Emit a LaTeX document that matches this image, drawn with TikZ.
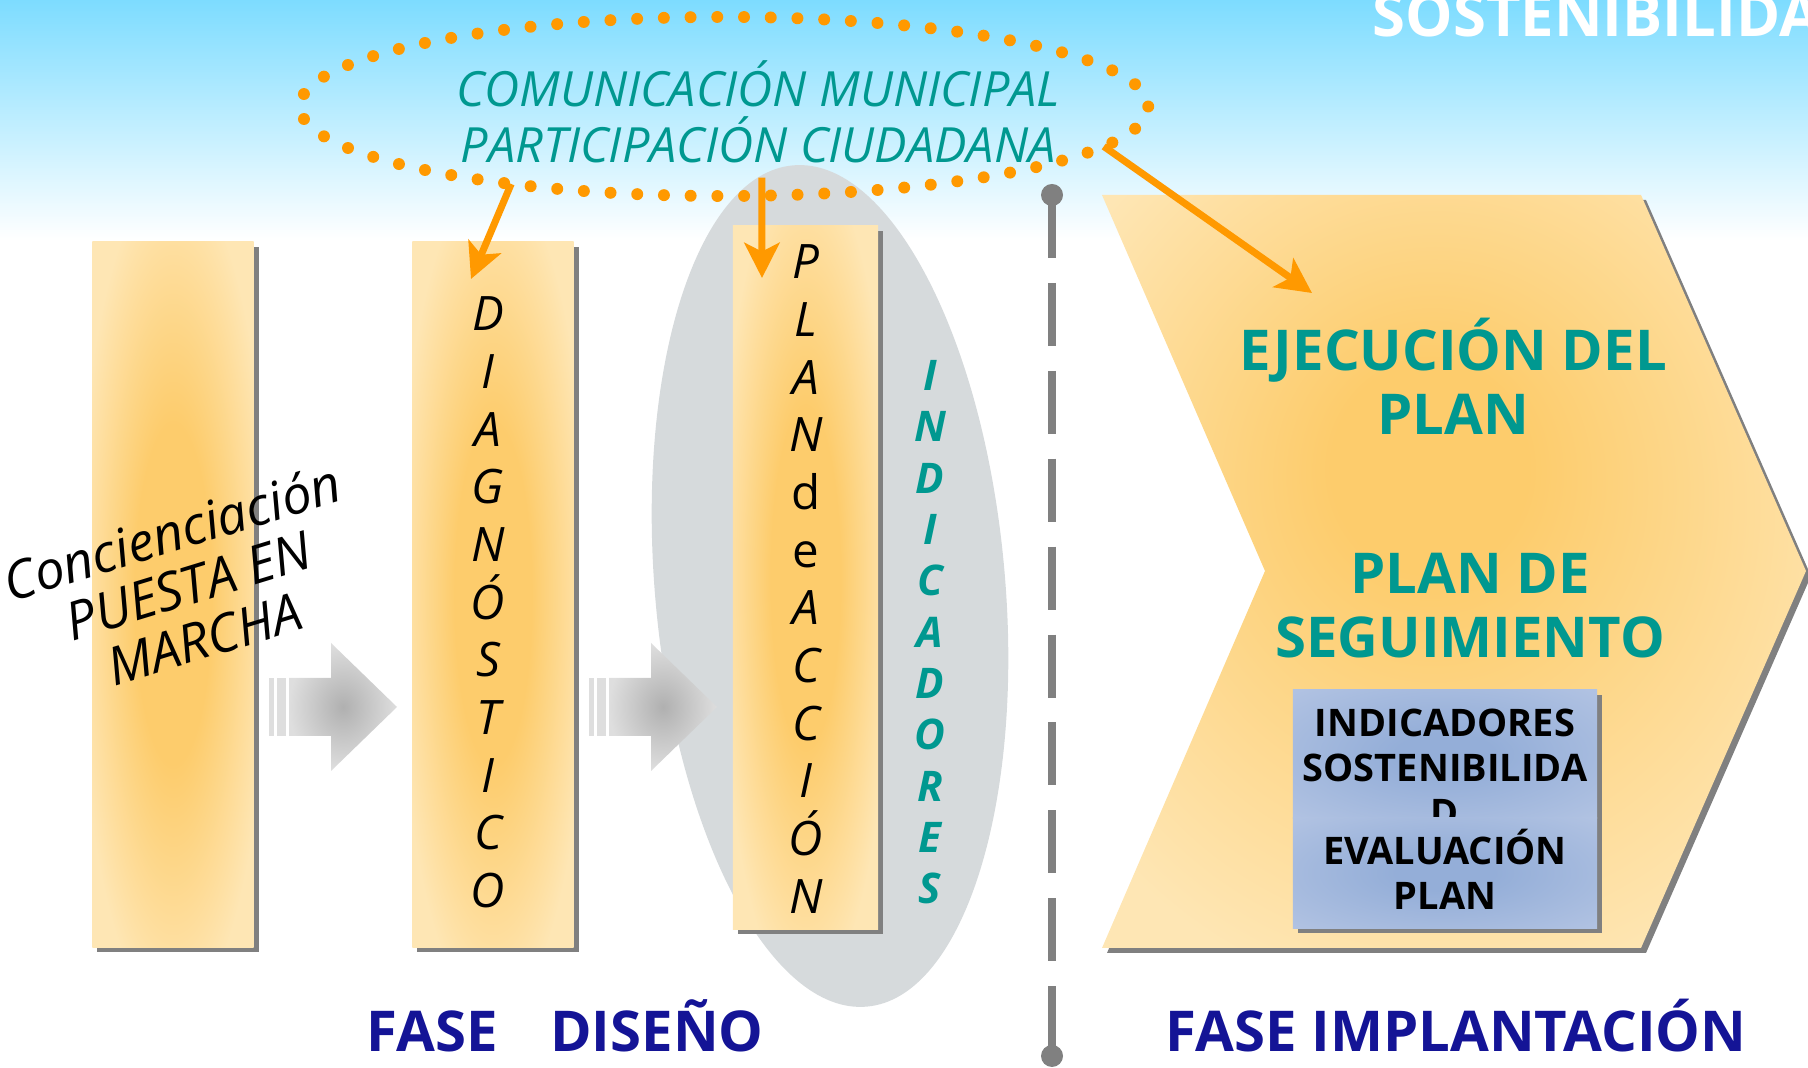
\documentclass[tikz,border=0pt]{standalone}
\usepackage{fontspec}
\setmainfont{Open Sans}
\usepackage{tikz}
\usetikzlibrary{shapes.geometric,arrows.meta,shadows}
\definecolor{skytop}{RGB}{125,220,255}
\definecolor{glowin}{RGB}{253,204,108}
\definecolor{glowout}{RGB}{254,230,180}
\definecolor{shadowgray}{RGB}{128,128,128}
\definecolor{ovalgray}{RGB}{214,218,220}
\definecolor{commteal}{RGB}{0,152,144}
\definecolor{phasenavy}{RGB}{20,20,150}
\definecolor{dotorange}{RGB}{255,153,0}
\definecolor{boxin}{RGB}{148,174,216}
\definecolor{boxout}{RGB}{182,198,228}
\definecolor{arrowin}{RGB}{176,176,176}
\definecolor{arrowout}{RGB}{222,222,222}
\pgfdeclareradialshading{barglow}{\pgfpoint{0bp}{0bp}}{color(0bp)=(glowin); color(12bp)=(glowin); color(30bp)=(glowout); color(50bp)=(glowout)}
\pgfdeclareradialshading{chevglow}{\pgfpoint{-2bp}{8bp}}{color(0bp)=(glowin); color(7bp)=(glowin); color(32bp)=(glowout); color(50bp)=(glowout)}
\pgfdeclareradialshading{boxglow}{\pgfpoint{0bp}{0bp}}{color(0bp)=(boxin); color(8bp)=(boxin); color(40bp)=(boxout); color(50bp)=(boxout)}
\tikzset{
    glow-bar/.style = {rectangle, shade, shading=barglow, inner sep=0pt, drop shadow={shadow xshift=0.05cm, shadow yshift=-0.05cm, fill=shadowgray, opacity=1}},
    blue-box/.style = {rectangle, shade, shading=boxglow, inner sep=0pt, drop shadow={shadow xshift=0.05cm, shadow yshift=-0.05cm, fill=shadowgray, opacity=1}},
    bar-letter/.style = {font=\fontsize{13.5}{15}\selectfont\itshape, inner sep=0pt, text height=0.72em, text depth=0pt},
    indic-letter/.style = {font=\fontsize{12}{14}\selectfont\bfseries\itshape, text=commteal, inner sep=0pt, text height=0.72em, text depth=0pt},
    indic-oval/.style = {ellipse, fill=ovalgray, inner sep=0pt, minimum width=3.5cm, minimum height=8.44cm},
    dot-ring/.style = {ellipse, draw=dotorange, line width=3.4pt, dash pattern=on 0pt off 7.6pt, line cap=round, inner sep=0pt, outer sep=0pt, minimum width=8.48cm, minimum height=1.79cm},
    comm-text/.style = {font=\fontsize{13.8}{16}\selectfont\itshape, text=commteal, align=center, inner sep=0pt},
    start-text/.style = {font=\fontsize{15}{15.8}\selectfont\itshape, align=center, inner sep=0pt},
    phase-title/.style = {font=\fontsize{16}{18.2}\selectfont\bfseries, text=commteal, align=center, inner sep=0pt},
    box-text/.style = {font=\fontsize{10.8}{12.8}\selectfont\bfseries, align=center, inner sep=0pt},
    phase-label/.style = {font=\fontsize{16}{19}\selectfont\bfseries, text=phasenavy, inner sep=0pt},
    banner-text/.style = {font=\fontsize{17}{20}\selectfont\bfseries, text=white, inner sep=0pt},
    flow-arrow/.style = {draw=dotorange, line width=2pt, -{Stealth[length=10pt, width=10pt, inset=2.5pt]}},
    step-arrow/.style = {inner color=arrowin, outer color=arrowout},
    stripe/.style = {fill=arrowout},
    divider/.style = {draw=shadowgray, line width=2.3pt, dash pattern=on 17.9pt off 7.1pt},
    end-dot/.style = {circle, fill=shadowgray, inner sep=0pt, minimum size=0.22cm},
}
\begin{document}
\begin{tikzpicture}[x=0.01cm, y=-0.01cm]
\useasboundingbox (0,0) rectangle (1808,1068);
\clip (0,0) rectangle (1808,1068);
\shade[top color=skytop, bottom color=white] (0,0) rectangle (1808,240);
\node[banner-text, anchor=base west] (banner) at (1372,37) {SOSTENIBILIDA};

\node[indic-oval, rotate=5] (oval) at (830,586) {};

\node[glow-bar, minimum width=1.61cm, minimum height=7.05cm] (bar1) at (173,594.5) {};
\node[glow-bar, minimum width=1.61cm, minimum height=7.05cm] (bar2) at (493,594.5) {};
\node[glow-bar, minimum width=1.45cm, minimum height=7.03cm] (bar3) at (805.5,577.5) {};

\foreach \ch [count=\i] in {D,I,A,G,N,Ó,S,T,I,C,O}
    \node[bar-letter] (diag\i) at (488,{318+57.7*(\i-1)}) {\ch};
\foreach \ch [count=\i] in {P,L,A,N,\upshape d,\upshape e,A,C,C,I,Ó,N}
    \node[bar-letter] (plan\i) at (806,{266+57.7*(\i-1)}) {\ch};
\foreach \ch [count=\i] in {I,N,D,I,C,A,D,O,R,E,S}
    \node[indic-letter] (indic\i) at (930,{378+51.3*(\i-1)}) {\ch};

\node[start-text, rotate=17] (start) at (188,585) {Concienciación\\PUESTA EN\\MARCHA};

\foreach \dx in {0,320} {
    \fill[stripe] (269+\dx,678) rectangle (274+\dx,736);
    \fill[stripe] (277+\dx,678) rectangle (286+\dx,736);
    \shade[step-arrow] (289+\dx,678) -- (331+\dx,678) -- (331+\dx,643) -- (397+\dx,707) -- (331+\dx,771) -- (331+\dx,736) -- (289+\dx,736) -- cycle;
}

\fill[shadowgray, shift={(5,5)}] (1102,195) -- (1641,195) -- (1806,571) -- (1641,948) -- (1102,948) -- (1265,571) -- cycle;
\shade[shading=chevglow] (1102,195) -- (1641,195) -- (1806,571) -- (1641,948) -- (1102,948) -- (1265,571) -- cycle;
\node[phase-title] (exec) at (1453,376) {EJECUCIÓN DEL\\PLAN};
\node[phase-title] (follow) at (1470,606) {PLAN DE\\SEGUIMIENTO};

\node[blue-box, minimum width=3.04cm, minimum height=1.28cm] (indbox) at (1445,754) {};
\node[box-text] (indtext) at (1445,768) {INDICADORES\\SOSTENIBILIDA\\D};
\node[blue-box, minimum width=3.04cm, minimum height=1.10cm] (evalbox) at (1445,873) {};
\node[box-text] (evaltext) at (1445,869) {EVALUACIÓN\\PLAN};

\node[dot-ring] (comm) at (724,106.5) {};
\node[comm-text] (commtext) at (758,112) {COMUNICACIÓN MUNICIPAL\\PARTICIPACIÓN CIUDADANA};

\draw[divider] (1052,195) -- (1052,1056);
\node[end-dot] (divtop) at (1052,195) {};
\node[end-dot] (divbot) at (1052,1056) {};

\coordinate (diag-in) at (471,279);
\coordinate (plan-in) at (762,278);
\coordinate (exec-in) at (1312,293);
\draw[flow-arrow] (comm.200) -- (diag-in);
\draw[flow-arrow] ([yshift=0.18cm]comm.293) -- (plan-in);
\draw[flow-arrow] (comm.354) -- (exec-in);

\node[phase-label, anchor=base] (design) at (565,1052) {FASE\hspace{15pt}DISEÑO};
\node[phase-label, anchor=base] (deploy) at (1456,1052) {FASE IMPLANTACIÓN};
\end{tikzpicture}
\end{document}
